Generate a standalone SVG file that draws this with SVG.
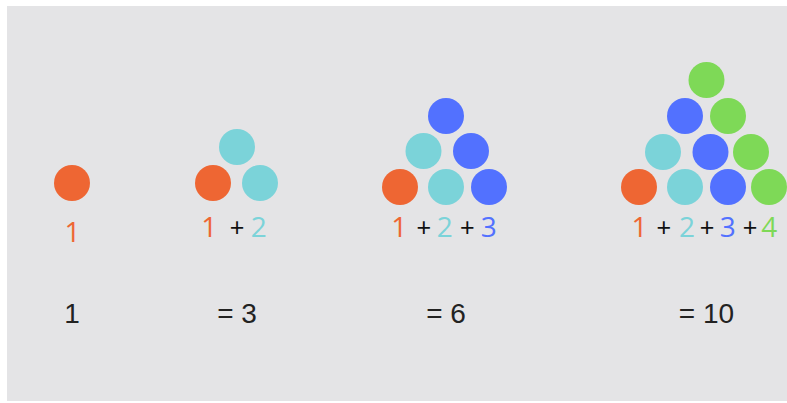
<svg xmlns="http://www.w3.org/2000/svg" width="787" height="403" viewBox="0 0 787 403">
<style>
.o{fill:#EE6633}.c{fill:#7BD3D9}.b{fill:#5271FF}.g{fill:#7ED957}
.d{font-family:"Open Sans","Liberation Sans",sans-serif;font-size:28px;font-weight:400;text-anchor:middle}
.p{font-family:"Liberation Sans",sans-serif;font-size:25px;fill:#111;text-anchor:middle}
.r{font-family:"Liberation Sans",sans-serif;font-size:28px;fill:#222;text-anchor:middle}
</style>
<rect x="0" y="0" width="787" height="403" fill="#ffffff"/>
<rect x="7" y="6" width="780" height="395" fill="#E4E4E6"/>
<g id="n1">
<circle class="o" cx="72" cy="183" r="18"/>
<text class="d o" x="72.6" y="241.5">1</text>
<text class="r" x="72" y="323">1</text>
</g>
<g id="n2">
<circle class="o" cx="213" cy="183" r="18"/>
<circle class="c" cx="260" cy="183" r="18"/>
<circle class="c" cx="237" cy="147" r="18"/>
<text class="d o" x="209.2" y="237">1</text>
<text class="p" x="237" y="236">+</text>
<text class="d c" x="258.8" y="237">2</text>
<text class="r" x="237" y="323">= 3</text>
</g>
<g id="n3">
<circle class="o" cx="400" cy="187" r="18"/>
<circle class="c" cx="446" cy="187" r="18"/>
<circle class="b" cx="489" cy="187" r="18"/>
<circle class="c" cx="423.5" cy="151" r="18"/>
<circle class="b" cx="471" cy="151" r="18"/>
<circle class="b" cx="446" cy="116" r="18"/>
<text class="d o" x="399.2" y="237">1</text>
<text class="p" x="423.7" y="236">+</text>
<text class="d c" x="444.8" y="237">2</text>
<text class="p" x="467.2" y="236">+</text>
<text class="d b" x="488.8" y="237">3</text>
<text class="r" x="446" y="323">= 6</text>
</g>
<g id="n4">
<circle class="o" cx="639" cy="187" r="18"/>
<circle class="c" cx="685" cy="187" r="18"/>
<circle class="b" cx="728" cy="187" r="18"/>
<circle class="g" cx="769" cy="187" r="18"/>
<circle class="c" cx="663" cy="152" r="18"/>
<circle class="b" cx="710.5" cy="152" r="18"/>
<circle class="g" cx="751" cy="152" r="18"/>
<circle class="b" cx="685" cy="116" r="18"/>
<circle class="g" cx="728" cy="116" r="18"/>
<circle class="g" cx="706.5" cy="80" r="18"/>
<text class="d o" x="639.5" y="237">1</text>
<text class="p" x="663.7" y="236">+</text>
<text class="d c" x="687" y="237">2</text>
<text class="p" x="707" y="236">+</text>
<text class="d b" x="727.8" y="237">3</text>
<text class="p" x="750" y="236">+</text>
<text class="d g" x="769.2" y="237">4</text>
<text class="r" x="706.5" y="323">= 10</text>
</g>
<g id="connectors"/>
</svg>
